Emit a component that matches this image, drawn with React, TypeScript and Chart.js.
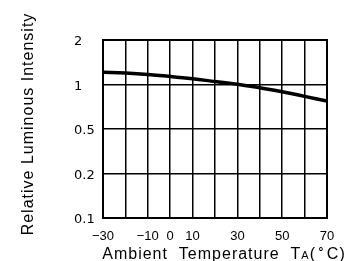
import React, { useEffect, useRef } from "react";
import { Chart, registerables } from "chart.js";

Chart.register(...registerables);

const temperatures = [-30, -20, -10, 0, 10, 20, 30, 40, 50, 60, 70];
const intensity = [1.21, 1.195, 1.17, 1.134, 1.094, 1.048, 1.005, 0.95, 0.894, 0.831, 0.773];
const yTickValues = [0.1, 0.2, 0.5, 1, 2];
const xTickLabels = [-30, -10, 0, 10, 30, 50, 70];
const yTitle = "Relative Luminous Intensity";
const xTitleMain = "Ambient  Temperature  T";
const xTitleSub = "A";

// map value onto the equally spaced axis (piecewise log between tick values)
function axisPos(v: number): number {
  for (let i = 0; i < yTickValues.length - 1; i++) {
    const a = yTickValues[i];
    const b = yTickValues[i + 1];
    if (v <= b || i === yTickValues.length - 2) {
      return i + Math.log(v / a) / Math.log(b / a);
    }
  }
  return 0;
}

const FONT = "'Liberation Sans', Arial, sans-serif";
const YFONT = "'DejaVu Sans', sans-serif";

const titlePlugin = {
  id: "titles",
  afterDraw(chart: any) {
    const ctx = chart.ctx as any;
    ctx.save();
    ctx.fillStyle = "#000";
    // y title
    ctx.font = `16px ${FONT}`;
    ctx.letterSpacing = "1px";
    ctx.textAlign = "center";
    ctx.textBaseline = "alphabetic";
    ctx.translate(33, 124);
    ctx.rotate(-Math.PI / 2);
    ctx.fillText(yTitle, 0, 0);
    ctx.restore();

    // x title
    ctx.save();
    ctx.fillStyle = "#000";
    ctx.textBaseline = "alphabetic";
    ctx.textAlign = "left";
    ctx.letterSpacing = "1px";
    const big = `16px ${FONT}`;
    const small = `11px ${FONT}`;
    ctx.font = big;
    const w1 = ctx.measureText(xTitleMain).width;
    ctx.font = small;
    const w2 = ctx.measureText(xTitleSub).width;
    ctx.font = big;
    const w3 = ctx.measureText("( ").width;
    ctx.font = small;
    const w4 = ctx.measureText("°").width;
    ctx.font = big;
    const w5 = ctx.measureText("C)").width;
    const total = w1 + w2 + w3 + w4 + w5;
    let x = 224 - total / 2;
    const base = 259;
    ctx.font = big;
    ctx.fillText(xTitleMain, x, base);
    x += w1;
    ctx.font = small;
    ctx.fillText(xTitleSub, x, base);
    x += w2;
    ctx.font = big;
    ctx.fillText("(", x, base);
    x += w3;
    ctx.font = `bold 12px ${FONT}`;
    ctx.fillText("°", x - 3, base - 3);
    x += w4;
    ctx.font = big;
    ctx.fillText("C)", x, base);
    ctx.restore();
  },
};

export default function App() {
  const ref = useRef<HTMLCanvasElement | null>(null);
  useEffect(() => {
    if (!ref.current) return;
    const chart = new Chart(ref.current, {
      type: "line",
      data: {
        datasets: [
          {
            data: temperatures.map((t, i) => ({ x: t, y: axisPos(intensity[i]) })),
            borderColor: "#000",
            borderWidth: 3.5,
            pointRadius: 0,
            tension: 0.4,
            fill: false,
          },
        ],
      },
      options: {
        animation: false,
        responsive: true,
        maintainAspectRatio: false,
        layout: { padding: { left: 74, top: 40, right: 23, bottom: 0 } },
        plugins: { legend: { display: false }, tooltip: { enabled: false } },
        scales: {
          x: {
            type: "linear",
            min: -30,
            max: 70,
            afterBuildTicks(scale: any) {
              scale.ticks = temperatures.map((v) => ({ value: v }));
            },
            afterFit(scale: any) {
              scale.height = 43;
            },
            ticks: {
              autoSkip: false,
              maxRotation: 0,
              padding: 11,
              color: "#000",
              font: { family: FONT, size: 13 },
              callback: (v: any) =>
                xTickLabels.includes(Number(v)) ? String(v).replace("-", "\u2212") : "",
            },
            grid: { color: "#000", lineWidth: 1.5, drawTicks: false },
            border: { color: "#000", width: 2 },
          },
          y: {
            type: "linear",
            min: 0,
            max: yTickValues.length - 1,
            afterBuildTicks(scale: any) {
              scale.ticks = yTickValues.map((_, i) => ({ value: i }));
            },
            afterFit(scale: any) {
              scale.width = 29;
            },
            ticks: {
              crossAlign: "far",
              padding: 6,
              labelOffset: 2,
              color: "#000",
              font: { family: YFONT, size: 13 },
              callback: (v: any) => String(yTickValues[Math.round(Number(v))]),
            },
            grid: { color: "#000", lineWidth: 1.5, drawTicks: false },
            border: { color: "#000", width: 2 },
          },
        },
      },
      plugins: [
        titlePlugin,
        {
          id: "frame",
          afterDraw(c: any) {
            const { left, right, top, bottom } = c.chartArea;
            const ctx = c.ctx;
            ctx.save();
            ctx.strokeStyle = "#000";
            ctx.lineWidth = 2;
            ctx.strokeRect(left, top, right - left, bottom - top);
            ctx.restore();
          },
        },
      ],
    });
    return () => chart.destroy();
  }, []);
  return (
    <div style={{ position: "fixed", left: 0, top: 0, width: 350, height: 261, background: "#fff" }}>
      <canvas ref={ref} />
    </div>
  );
}
